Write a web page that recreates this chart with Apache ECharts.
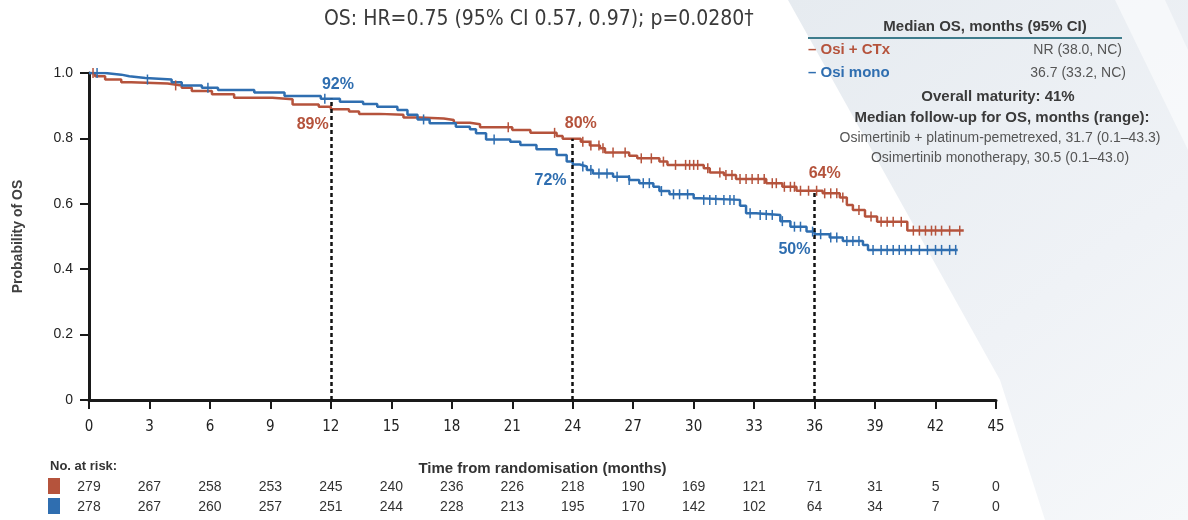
<!DOCTYPE html>
<html><head><meta charset="utf-8">
<script src="https://cdn.jsdelivr.net/npm/echarts@6/dist/echarts.min.js"></script>
<style>html,body{margin:0;padding:0;background:#fff}#c{width:1188px;height:520px}</style>
</head><body><div id="c"></div>
<script>
// ---- data ----
const xTicks = [0,3,6,9,12,15,18,21,24,27,30,33,36,39,42,45];
const riskCTx  = [279,267,258,253,245,240,236,226,218,190,169,121,71,31,5,0];
const riskMono = [278,267,260,257,251,244,228,213,195,170,142,102,64,34,7,0];

const ctxTimes = [0,0.3,0.8,1.6,2.1,3.9,4.6,5.1,6.1,7.2,9.1,10.1,11.4,12.0,12.9,13.4,14.4,15.6,16.4,17.6,18.1,18.9,19.4,21.0,21.9,23.2,23.5,24.4,24.85,25.35,25.6,26.8,27.2,28.3,28.7,30.5,30.8,31.5,32.1,33.6,34.4,35.1,36.4,37.25,37.6,37.9,38.5,39.1,40.6,43.4];
const ctxSurv  = [1.0,0.99,0.98,0.972,0.968,0.962,0.955,0.945,0.935,0.924,0.92,0.904,0.897,0.889,0.882,0.875,0.872,0.864,0.861,0.856,0.848,0.843,0.834,0.826,0.817,0.807,0.799,0.79,0.778,0.77,0.757,0.747,0.739,0.729,0.719,0.709,0.696,0.688,0.676,0.663,0.652,0.64,0.632,0.619,0.596,0.581,0.561,0.545,0.518,0.518];
const monoTimes = [0,0.8,1.6,2.0,2.8,4.1,4.6,5.6,6.4,8.2,9.7,11.5,12.45,13.6,14.3,15.3,15.8,16.3,16.9,18.2,18.9,19.2,19.7,20.9,21.4,22.2,23.2,23.7,24.0,24.35,24.7,25.0,26.0,26.8,27.3,28.0,28.3,28.8,30.0,30.3,32.3,32.6,33.1,34.3,34.8,35.6,36.0,36.75,37.4,38.4,38.65,43.1];
const monoSurv  = [1.0,0.995,0.99,0.985,0.98,0.972,0.962,0.955,0.948,0.94,0.93,0.921,0.912,0.905,0.897,0.887,0.872,0.858,0.846,0.836,0.828,0.816,0.797,0.79,0.78,0.767,0.749,0.729,0.72,0.714,0.703,0.693,0.683,0.673,0.663,0.652,0.639,0.629,0.617,0.612,0.594,0.571,0.566,0.547,0.53,0.515,0.507,0.497,0.486,0.474,0.459,0.459];
const ctxCensor = [0.2,4.3,20.8,23.1,24.5,24.9,25.3,25.5,26.0,26.6,27.4,27.9,28.5,29.1,29.6,29.8,30.0,30.2,30.7,31.3,31.6,31.9,32.3,32.6,32.9,33.2,33.5,33.9,34.1,34.5,34.8,35.0,35.3,35.7,36.1,36.5,36.8,37.1,37.4,38.2,38.8,39.3,39.6,39.9,40.3,40.9,41.2,41.5,41.8,42.0,42.3,42.7,43.2];
const monoCensor = [0.4,2.9,5.9,11.7,16.6,20.1,24.5,24.9,25.3,25.7,26.2,26.8,27.5,27.8,28.4,29.0,29.3,29.7,30.5,30.8,31.1,31.5,31.8,32.0,32.8,33.3,33.6,33.9,34.4,35.0,35.3,35.9,36.3,36.8,37.1,37.6,37.9,38.2,38.9,39.3,39.6,39.9,40.2,40.5,40.8,41.2,41.6,42.0,42.3,42.7,43.0];
const landmarkMonths = [12,24,36];
const landmarkCTx = [89,80,64];
const landmarkMono = [92,72,50];

// ---- helpers ----
const RED = '#b5533c', BLUE = '#2f6eb0', TXT = '#3a3a3a';
function survAt(times, surv, t){ let v = surv[0]; for (let i=0;i<times.length;i++){ if (times[i] <= t) v = surv[i]; } return v; }
const pair = (ts, ss) => ts.map((t,i)=>[t, ss[i]]);
const cens = (cs, ts, ss) => cs.map(t=>[t, survAt(ts, ss, t)]);

const chart = echarts.init(document.getElementById('c'), null, {renderer:'canvas'});
const riskAxis = (arr, margin) => ({
  type:'value', gridIndex:0, min:0, max:45, interval:3, position:'bottom',
  axisLine:{show:false}, axisTick:{show:false}, splitLine:{show:false},
  axisLabel:{margin, color:'#333', fontSize:14, fontFamily:'Liberation Sans, Arial, sans-serif',
    formatter: v => { const i = xTicks.indexOf(v); return i>=0 ? String(arr[i]) : ''; }}
});
const landmarkLabels = [
  {v:landmarkMono[0], x:12.35, y:0.966, c:BLUE},
  {v:landmarkCTx[0],  x:11.1,  y:0.841, c:RED},
  {v:landmarkCTx[1],  x:24.4,  y:0.844, c:RED},
  {v:landmarkMono[1], x:22.9,  y:0.67,  c:BLUE},
  {v:landmarkCTx[2],  x:36.5,  y:0.691, c:RED},
  {v:landmarkMono[2], x:35.0,  y:0.459, c:BLUE}
];

chart.setOption({
  animation:false,
  backgroundColor:'#ffffff',
  grid:{left:89, right:192, top:73, bottom:120, containLabel:false, outerBoundsMode:'none'},
  xAxis:[{
    type:'value', min:0, max:45, interval:3,
    name:'Time from randomisation (months)', nameLocation:'middle', nameGap:61,
    nameTextStyle:{fontSize:15, fontWeight:'bold', color:'#333', fontFamily:'Liberation Sans, Arial, sans-serif'},
    axisLine:{lineStyle:{color:'#1a1a1a', width:3}},
    axisTick:{length:9, lineStyle:{color:'#1a1a1a', width:2}},
    axisLabel:{margin:20, fontSize:15, color:'#222', fontFamily:'Liberation Sans Narrow, DejaVu Sans Condensed, Arial, sans-serif'},
    splitLine:{show:false}
  }, riskAxis(riskCTx, 80), riskAxis(riskMono, 100)],
  yAxis:{
    type:'value', min:0, max:1, interval:0.2,
    name:'Probability of OS', nameLocation:'middle', nameGap:64, nameRotate:90,
    nameTextStyle:{fontSize:14, fontWeight:'bold', color:'#404040', fontFamily:'Liberation Sans, Arial, sans-serif'},
    axisLine:{show:true, lineStyle:{color:'#1a1a1a', width:3}},
    axisTick:{show:true, length:9, lineStyle:{color:'#1a1a1a', width:2}},
    axisLabel:{margin:16, fontSize:14, color:'#222', fontFamily:'Liberation Sans, Arial, sans-serif',
      formatter: v => v===0 ? '0' : v.toFixed(1)},
    splitLine:{show:false}
  },
  series:[
    {type:'line', name:'Osi + CTx', step:'end', data:pair(ctxTimes, ctxSurv), showSymbol:false,
     lineStyle:{color:RED, width:2.5}, z:3},
    {type:'line', name:'Osi mono', step:'end', data:pair(monoTimes, monoSurv), showSymbol:false,
     lineStyle:{color:BLUE, width:2.5}, z:4,
     markLine:{silent:true, symbol:'none', label:{show:false},
       lineStyle:{color:'#111', width:2.5, type:[4,3]},
       data: landmarkMonths.map(m => [{coord:[m,0]},{coord:[m, Math.max(survAt(ctxTimes,ctxSurv,m), survAt(monoTimes,monoSurv,m))]}])
     }},
    {type:'scatter', data:cens(ctxCensor, ctxTimes, ctxSurv), symbol:'rect', symbolSize:[1.5,10],
     itemStyle:{color:RED, opacity:1}, z:5, silent:true},
    {type:'scatter', data:cens(monoCensor, monoTimes, monoSurv), symbol:'rect', symbolSize:[1.5,10],
     itemStyle:{color:BLUE, opacity:1}, z:5, silent:true},
    {type:'scatter', symbolSize:0, silent:true, z:6, itemStyle:{opacity:1},
     data: landmarkLabels.map(o => ({value:[o.x,o.y], label:{show:true, position:'inside',
       formatter: o.v + '%', color:o.c, fontSize:16, fontWeight:'bold', fontFamily:'Liberation Sans, Arial, sans-serif'}}))}
  ],
  graphic:[
    {type:'polygon', z:-10, shape:{points:[[788,0],[1188,0],[1188,520],[1045,520],[1000,380]]},
     style:{fill:new echarts.graphic.LinearGradient(0,0,1,1,[{offset:0,color:'#e6ebf0'},{offset:0.6,color:'#eff2f6'},{offset:1,color:'#f6f8fa'}])}},
    {type:'polygon', z:-9, shape:{points:[[1115,0],[1165,0],[1188,50],[1188,150]]},
     style:{fill:'rgba(255,255,255,0.55)'}},
    {type:'text', z:10, left:324, top:9, style:{text:'OS: HR=0.75 (95% CI 0.57, 0.97); p=0.0280†', fill:TXT,
      font:'21px "Liberation Sans Narrow", "DejaVu Sans Condensed", Arial, sans-serif'}},
    {type:'text', z:10, x:985, y:27, style:{text:'Median OS, months (95% CI)', fill:TXT, align:'center', verticalAlign:'middle',
      font:'bold 15px "Liberation Sans", Arial, sans-serif'}},
    {type:'line', z:10, shape:{x1:808, y1:38, x2:1122, y2:38}, style:{stroke:'#3e7c8c', lineWidth:2}},
    {type:'text', z:10, x:808, y:50, style:{text:'– Osi + CTx', fill:RED, verticalAlign:'middle', font:'bold 15px "Liberation Sans", Arial, sans-serif'}},
    {type:'text', z:10, x:1122, y:50, style:{text:'NR (38.0, NC)', fill:'#555', align:'right', verticalAlign:'middle', font:'14px "Liberation Sans", Arial, sans-serif'}},
    {type:'text', z:10, x:808, y:73, style:{text:'– Osi mono', fill:BLUE, verticalAlign:'middle', font:'bold 15px "Liberation Sans", Arial, sans-serif'}},
    {type:'text', z:10, x:1126, y:73, style:{text:'36.7 (33.2, NC)', fill:'#555', align:'right', verticalAlign:'middle', font:'14px "Liberation Sans", Arial, sans-serif'}},
    {type:'text', z:10, x:998, y:97, style:{text:'Overall maturity: 41%', fill:TXT, align:'center', verticalAlign:'middle', font:'bold 15px "Liberation Sans", Arial, sans-serif'}},
    {type:'text', z:10, x:1002, y:118, style:{text:'Median follow-up for OS, months (range):', fill:TXT, align:'center', verticalAlign:'middle', font:'bold 15px "Liberation Sans", Arial, sans-serif'}},
    {type:'text', z:10, x:1000, y:138, style:{text:'Osimertinib + platinum-pemetrexed, 31.7 (0.1–43.3)', fill:'#555', align:'center', verticalAlign:'middle', font:'14px "Liberation Sans", Arial, sans-serif'}},
    {type:'text', z:10, x:1000, y:158, style:{text:'Osimertinib monotherapy, 30.5 (0.1–43.0)', fill:'#555', align:'center', verticalAlign:'middle', font:'14px "Liberation Sans", Arial, sans-serif'}},
    {type:'text', z:10, x:50, y:466, style:{text:'No. at risk:', fill:'#333', verticalAlign:'middle', font:'bold 13px "Liberation Sans", Arial, sans-serif'}},
    {type:'rect', z:10, shape:{x:48, y:478, width:12, height:16}, style:{fill:RED}},
    {type:'rect', z:10, shape:{x:48, y:498, width:12, height:16}, style:{fill:BLUE}}
  ]
});
</script></body></html>
